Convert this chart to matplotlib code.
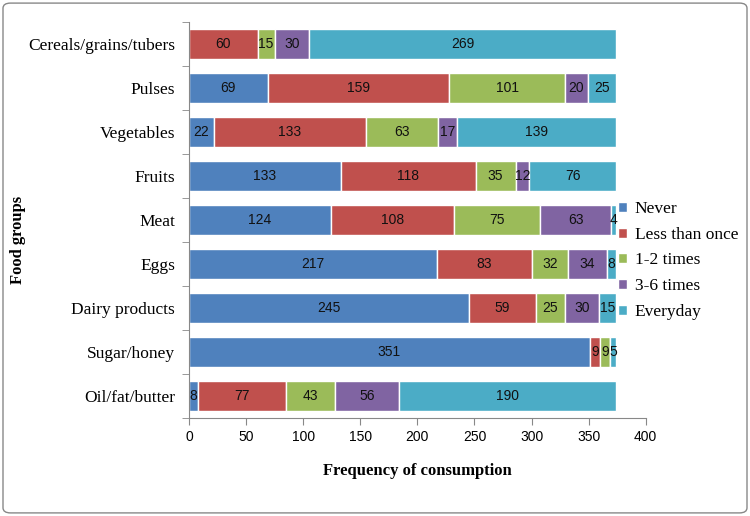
import matplotlib.pyplot as plt
import numpy as np
from matplotlib.patches import FancyBboxPatch

foods = ['Cereals/grains/tubers', 'Pulses', 'Vegetables', 'Fruits', 'Meat',
         'Eggs', 'Dairy products', 'Sugar/honey', 'Oil/fat/butter']
series = ['Never', 'Less than once', '1-2 times', '3-6 times', 'Everyday']
never = [0, 69, 22, 133, 124, 217, 245, 351, 8]
less_once = [60, 159, 133, 118, 108, 83, 59, 9, 77]
one_two = [15, 101, 63, 35, 75, 32, 25, 9, 43]
three_six = [30, 20, 17, 12, 63, 34, 30, 0, 56]
everyday = [269, 25, 139, 76, 4, 8, 15, 5, 190]
colors = ['#4F81BD', '#C0504D', '#9BBB59', '#8064A2', '#4BACC6']

serif = ['Liberation Serif', 'DejaVu Serif']
sans = ['Liberation Sans', 'DejaVu Sans']

fig = plt.figure(figsize=(7.5, 5.16), dpi=100)
ax = fig.add_axes([0.252, 0.19, 0.609, 0.767])

y = np.arange(len(foods))
left = np.zeros(len(foods))
for name, vals, c in zip(series, [never, less_once, one_two, three_six, everyday], colors):
    vals = np.array(vals)
    bars = ax.barh(y, vals, left=left, height=0.68, color=c, edgecolor='white',
                   linewidth=1, label=name)
    labels = [str(v) if v > 0 else '' for v in vals]
    ax.bar_label(bars, labels=labels, label_type='center', fontsize=10,
                 family=sans, color='#111111')
    left += vals

ax.set_ylim(len(foods) - 0.5, -0.5)
ax.set_xlim(0, 400)
ax.set_xticks(range(0, 401, 50))
ax.set_yticks(y)
ax.set_yticklabels(foods, family=serif, fontsize=12.5)
ax.set_yticks(np.arange(-0.5, len(foods), 1), minor=True)
ax.tick_params(axis='y', which='major', length=0, pad=10)
ax.tick_params(axis='y', which='minor', length=5, color='#888888')
ax.tick_params(axis='x', length=5, color='#888888', labelsize=10)
for t in ax.get_xticklabels():
    t.set_family(sans)
for s in ['top', 'right']:
    ax.spines[s].set_visible(False)
for s in ['left', 'bottom']:
    ax.spines[s].set_color('#888888')

ax.set_xlabel('Frequency of consumption', family=serif, fontsize=12,
              fontweight='bold', labelpad=14)
fig.text(0.024, 0.535, 'Food groups', rotation=90, family=serif, fontsize=12,
         fontweight='bold', ha='center', va='center')

leg = ax.legend(loc='center left', bbox_to_anchor=(0.906, 0.398), frameon=False,
                prop={'family': serif, 'size': 12.5}, handlelength=0.5,
                handleheight=0.5, handletextpad=0.45, labelspacing=0.56)

border = FancyBboxPatch((0.004, 0.006), 0.992, 0.988, boxstyle='round,pad=0,rounding_size=0.01',
                        transform=fig.transFigure, fill=False, edgecolor='#888888',
                        linewidth=1)
fig.patches.append(border)

fig.savefig('out.png', dpi=100)
